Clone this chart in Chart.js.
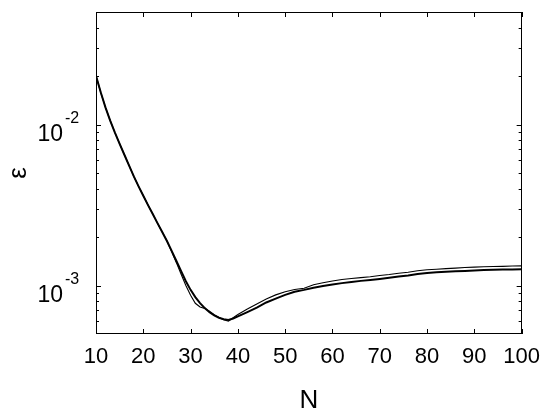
<!DOCTYPE html>
<html>
<head>
<meta charset="utf-8">
<script src="https://cdn.jsdelivr.net/npm/chart.js@4.4.0/dist/chart.umd.min.js"></script>
<style>
  html, body { margin: 0; padding: 0; background: #fff; }
  #wrap { width: 550px; height: 419px; position: relative; }
</style>
</head>
<body>
<div id="wrap"><canvas id="c" width="550" height="419"></canvas></div>
<script>
// ---- data ----
const nValues = [10,11,12,13,14,15,16,17,18,19,20,21,22,23,24,25,26,27,28,29,30,31,32,33,34,35,36,37,38,39,40,42,44,46,48,50,52,54,56,58,60,62,64,66,68,70,72,74,76,78,80,82,84,86,88,90,92,94,96,98,100];
const errorThick = [0.02009,0.01585,0.01279,0.01059,0.00891,0.00759,0.00649,0.00556,0.00476,0.00413,0.00361,0.00316,0.00278,0.00244,0.00215,0.00189,0.00164,0.00142,0.00123,0.001064,0.000940,0.000847,0.000778,0.000724,0.000682,0.000652,0.000631,0.000618,0.000612,0.000624,0.000643,0.000684,0.000730,0.000785,0.000830,0.000875,0.000914,0.000940,0.000970,0.000993,0.001016,0.001035,0.001052,0.001069,0.001084,0.001099,0.001117,0.001138,0.001156,0.001180,0.001197,0.001208,0.001216,0.001225,0.001233,0.001242,0.001247,0.001253,0.001256,0.001259,0.001262];
const errorThin = [0.02009,0.01585,0.01279,0.01059,0.00891,0.00759,0.00649,0.00556,0.00476,0.00413,0.00361,0.00316,0.00278,0.00244,0.00215,0.00189,0.00162,0.001387,0.001175,0.001000,0.000871,0.000776,0.000736,0.000721,0.000692,0.000659,0.000634,0.000614,0.000600,0.000631,0.000661,0.000714,0.000768,0.000826,0.000875,0.000916,0.000944,0.000962,0.001012,0.001040,0.001067,0.001090,0.001106,0.001120,0.001135,0.001155,0.001170,0.001192,0.001210,0.001235,0.001252,0.001263,0.001274,0.001283,0.001294,0.001301,0.001307,0.001313,0.001316,0.001321,0.001324];
const xTicks = [10,20,30,40,50,60,70,80,90,100];
const yMajorTicks = [0.001, 0.01];
const yMajorExponents = ['-3', '-2'];
const yMin = 0.0005, yMax = 0.05;

const FONT = '"Liberation Sans", Arial, Helvetica, sans-serif';

function toPoints(xs, ys) { return xs.map((x, i) => ({ x: x, y: ys[i] })); }

// inward ticks, frame and 10^n labels, positioned through the scales
const framePlugin = {
  id: 'frame',
  afterDraw(chart) {
    const { ctx, chartArea: a, scales: { x, y } } = chart;
    ctx.save();
    ctx.strokeStyle = '#000';
    ctx.lineWidth = 1;
    ctx.strokeRect(Math.round(a.left) + 0.5, Math.round(a.top) + 0.5,
                   Math.round(a.right - a.left) - 1, Math.round(a.bottom - a.top) - 1);
    ctx.beginPath();
    xTicks.forEach(v => {
      const px = Math.round(x.getPixelForValue(v)) + 0.5;
      ctx.moveTo(px, a.bottom); ctx.lineTo(px, a.bottom - 5);
      ctx.moveTo(px, a.top); ctx.lineTo(px, a.top + 5);
    });
    const lo = Math.floor(Math.log10(yMin)), hi = Math.ceil(Math.log10(yMax));
    for (let e = lo; e <= hi; e++) {
      for (let m = 1; m <= 9; m++) {
        const v = m * Math.pow(10, e);
        if (v < yMin * 1.0001 || v > yMax * 0.9999) continue;
        const len = m === 1 ? 5 : 3;
        const py = Math.round(y.getPixelForValue(v)) + 0.5;
        ctx.moveTo(a.left, py); ctx.lineTo(a.left + len, py);
        ctx.moveTo(a.right, py); ctx.lineTo(a.right - len, py);
      }
    }
    ctx.stroke();
    // y tick labels 10^n
    ctx.fillStyle = '#000';
    yMajorTicks.forEach((v, i) => {
      const py = y.getPixelForValue(v);
      ctx.font = '23px ' + FONT;
      ctx.textAlign = 'right';
      ctx.textBaseline = 'alphabetic';
      ctx.fillText('10', a.left - 33, py + 16);
      ctx.font = '16px ' + FONT;
      ctx.textAlign = 'left';
      ctx.fillText(yMajorExponents[i], a.left - 31, py - 2);
    });
    ctx.restore();
  }
};

new Chart(document.getElementById('c'), {
  type: 'line',
  data: {
    datasets: [
      { label: 'thin', data: toPoints(nValues, errorThin), borderColor: '#000', borderWidth: 1.1, pointRadius: 0, tension: 0, fill: false },
      { label: 'thick', data: toPoints(nValues, errorThick), borderColor: '#000', borderWidth: 2, pointRadius: 0, tension: 0, fill: false }
    ]
  },
  options: {
    responsive: false,
    animation: false,
    devicePixelRatio: 1,
    layout: { padding: { left: 0, right: 28, top: 12, bottom: 0 } },
    plugins: { legend: { display: false }, tooltip: { enabled: false } },
    scales: {
      x: {
        type: 'linear', min: 10, max: 100,
        afterBuildTicks(s) { s.ticks = xTicks.map(v => ({ value: v })); },
        afterFit(s) { s.height = 85; },
        grid: { display: false, drawTicks: false },
        border: { display: false },
        ticks: { color: '#000', padding: 10, font: { family: FONT, size: 22 }, maxRotation: 0, autoSkip: false },
        title: { display: true, text: 'N', color: '#000', font: { family: FONT, size: 26 }, padding: { top: 0, bottom: 3 } }
      },
      y: {
        type: 'logarithmic', min: yMin, max: yMax,
        afterFit(s) { s.width = 96; },
        grid: { display: false, drawTicks: false },
        border: { display: false },
        ticks: { display: false },
        title: { display: true, text: 'ε', color: '#000', font: { family: FONT, size: 26 }, padding: { top: 3, bottom: 0 } }
      }
    }
  },
  plugins: [framePlugin]
});
</script>
</body>
</html>
